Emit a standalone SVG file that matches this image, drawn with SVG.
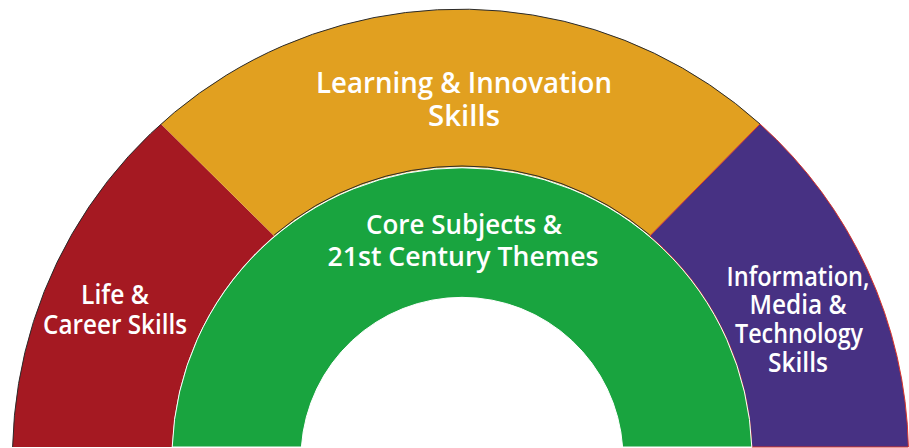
<svg xmlns="http://www.w3.org/2000/svg" width="909" height="448" viewBox="0 0 909 448">
  <style>
    .lbl { font-family: "Open Sans", "DejaVu Sans", sans-serif; font-weight: 600; fill: #ffffff; text-anchor: middle; }
    .big { font-size: 29px; }
    .mid { font-size: 27px; }
  </style>
  <rect x="0" y="0" width="909" height="448" fill="#ffffff"/>
  <g id="life-career">
    <path d="M 12.6 447 A 448 448 0 0 1 161 124 L 274.2 236 A 290 290 0 0 0 172.2 447 Z" fill="#A51922"/>
    <text class="lbl mid" x="115" y="304" textLength="68" lengthAdjust="spacingAndGlyphs">Life &amp;</text>
    <text class="lbl mid" x="115" y="334" textLength="144" lengthAdjust="spacingAndGlyphs">Career Skills</text>
  </g>
  <g id="learning-innovation">
    <path d="M 161 124 A 448 448 0 0 1 760 124 L 649.8 236 A 290 290 0 0 0 274.2 236 Z" fill="#E1A020"/>
    <text class="lbl big" x="464" y="93" textLength="296" lengthAdjust="spacingAndGlyphs">Learning &amp; Innovation</text>
    <text class="lbl big" x="464" y="126" textLength="72" lengthAdjust="spacingAndGlyphs">Skills</text>
  </g>
  <g id="info-media-tech">
    <path d="M 760 124 A 448 448 0 0 1 908.4 447 L 751.8 447 A 290 290 0 0 0 649.8 236 Z" fill="#473183" stroke="#D9342B" stroke-width="1"/>
    <text class="lbl mid" x="798" y="286" textLength="143" lengthAdjust="spacingAndGlyphs">Information,</text>
    <text class="lbl mid" x="798" y="314" textLength="97" lengthAdjust="spacingAndGlyphs">Media &amp;</text>
    <text class="lbl mid" x="799" y="343" textLength="128" lengthAdjust="spacingAndGlyphs">Technology</text>
    <text class="lbl mid" x="798" y="372" textLength="60" lengthAdjust="spacingAndGlyphs">Skills</text>
  </g>
  <g id="core-subjects">
    <path d="M 172.2 447 A 290 290 0 0 1 751.8 447 L 622.6 447 A 161 161 0 0 0 301.4 447 Z" fill="#19A43F" stroke="#ffffff" stroke-width="1"/>
    <text class="lbl mid" x="464" y="234" textLength="196" lengthAdjust="spacingAndGlyphs">Core Subjects &amp;</text>
    <text class="lbl mid" x="463" y="266" textLength="271" lengthAdjust="spacingAndGlyphs">21st Century Themes</text>
  </g>
  <g id="connectors" fill="none" stroke-width="1">
    <path d="M 12.6 447 A 448 448 0 0 1 760 124" stroke="#2a2a2a"/>
    <path d="M 274.2 236 A 290 290 0 0 1 649.8 236" stroke="#2a2a2a" transform="translate(0,-1)"/>
  </g>
</svg>
